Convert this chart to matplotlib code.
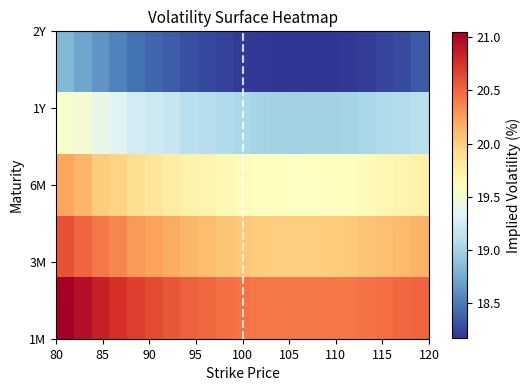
import numpy as np
import matplotlib
matplotlib.use("Agg")
import matplotlib.pyplot as plt

plt.rcParams['font.family'] = ['Noto Sans CJK JP', 'DejaVu Sans']

strikes = np.arange(80, 121, 2)
maturities = ['1M', '3M', '6M', '1Y', '2Y']

vol_1m = [21.05, 20.95, 20.85, 20.76, 20.68, 20.63, 20.57, 20.53, 20.49, 20.46, 20.44,
          20.42, 20.41, 20.41, 20.41, 20.42, 20.43, 20.45, 20.47, 20.49, 20.52]
vol_3m = [20.59, 20.50, 20.43, 20.36, 20.27, 20.23, 20.19, 20.13, 20.10, 20.06, 20.03,
          20.01, 20.00, 20.00, 20.00, 20.01, 20.02, 20.05, 20.08, 20.11, 20.16]
vol_6m = [20.21, 20.13, 20.01, 19.96, 19.90, 19.84, 19.78, 19.74, 19.71, 19.67, 19.64,
          19.61, 19.60, 19.59, 19.59, 19.60, 19.61, 19.64, 19.68, 19.71, 19.74]
vol_1y = [19.55, 19.50, 19.41, 19.35, 19.26, 19.22, 19.19, 19.12, 19.10, 19.06, 19.03,
          19.01, 19.00, 18.99, 19.00, 19.00, 19.01, 19.03, 19.06, 19.08, 19.12]
vol_2y = [18.83, 18.72, 18.63, 18.54, 18.46, 18.40, 18.36, 18.30, 18.27, 18.23, 18.20,
          18.19, 18.18, 18.17, 18.17, 18.18, 18.19, 18.21, 18.24, 18.28, 18.34]

Z = np.array([vol_1m, vol_3m, vol_6m, vol_1y, vol_2y])

W, H = 531, 391
fig = plt.figure(figsize=(W / 100, H / 100), dpi=100)
ax = fig.add_axes([56 / W, (H - 339) / H, (429 - 56) / W, (339 - 31) / H])
cax = fig.add_axes([452 / W, (H - 338) / H, 15 / W, (338 - 32) / H])

im = ax.imshow(Z, cmap='RdYlBu_r', aspect='auto', origin='lower',
               extent=[strikes[0], strikes[-1], 0, len(maturities) - 1])
ax.axvline(100, color='white', linestyle='--', linewidth=1.5, alpha=0.8)

ax.set_xticks([80, 85, 90, 95, 100, 105, 110, 115, 120])
ax.set_yticks(range(len(maturities)))
ax.set_yticklabels(maturities)
ax.tick_params(labelsize=9)
ax.set_xlabel('Strike Price', fontsize=10)
ax.set_ylabel('Maturity', fontsize=10)
ax.set_title('Volatility Surface Heatmap', fontsize=11)

cb = fig.colorbar(im, cax=cax)
cb.set_label('Implied Volatility (%)', fontsize=10)
cb.ax.tick_params(labelsize=9)

fig.savefig('out.png', dpi=100)
